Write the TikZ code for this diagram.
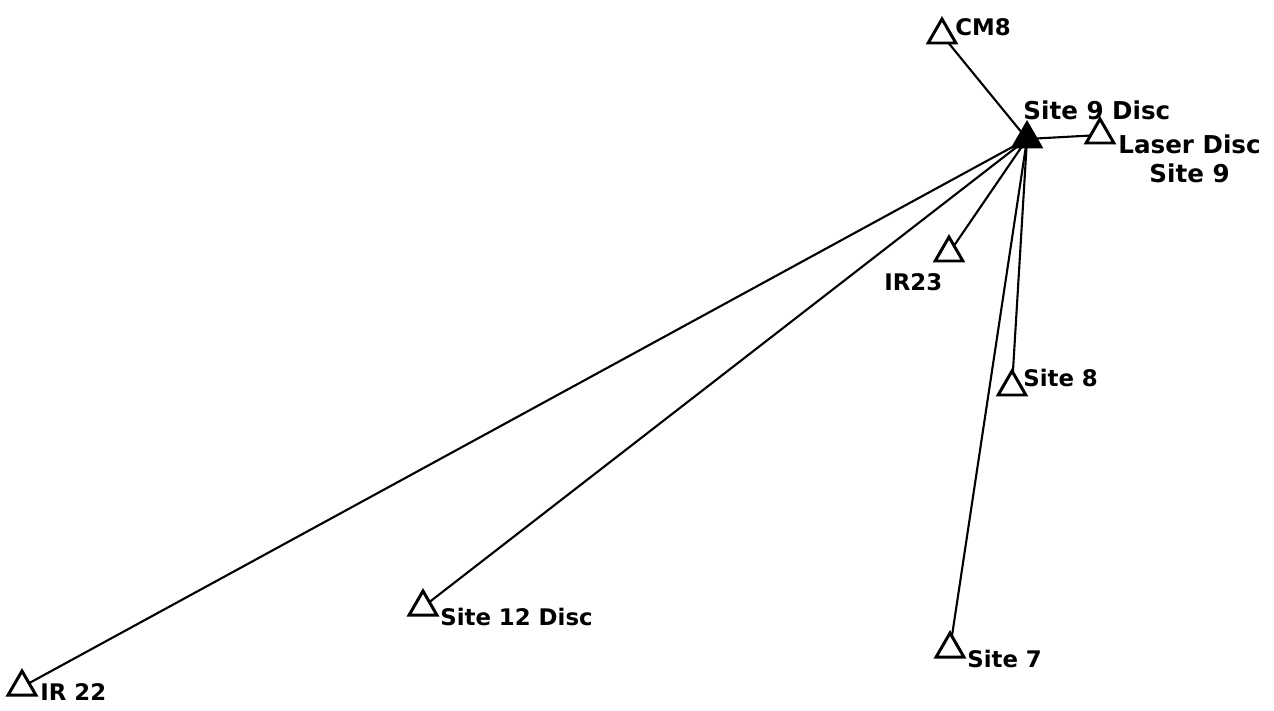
\documentclass[tikz,border=0pt]{standalone}
\usepackage{fontspec}
\setmainfont{DejaVu Sans}
\usetikzlibrary{shapes.geometric}

\begin{document}
\begin{tikzpicture}[x=0.02cm,y=-0.02cm,
  station/.style={regular polygon,regular polygon sides=3,draw,line width=1.7pt,
    minimum size=0.64cm,inner sep=0pt},
  lbl/.style={font=\bfseries\fontsize{13}{15}\selectfont,inner sep=0pt,anchor=west},
  ray/.style={line width=1.2pt,shorten <=-2pt,shorten >=-1pt}]
  \useasboundingbox (0,0) rectangle (1274,710);
  % stations
  \node[station,fill=black] (s9) at (1027,139) {};
  \node[station] (laser) at (1100,135) {};
  \node[station] (cm8) at (942,35) {};
  \node[station] (ir23) at (949,253) {};
  \node[station] (s8) at (1012,387) {};
  \node[station] (s7) at (950,649) {};
  \node[station] (s12) at (423,607) {};
  \node[station] (ir22) at (22,687) {};
  % labels
  \node[lbl,font=\bfseries\fontsize{14}{16}\selectfont] (s9l) at (1023,110) {Site 9 Disc};
  \node[lbl,font=\bfseries\fontsize{14}{17}\selectfont,align=center,anchor=north west] (laserl) at (1118,134) {Laser Disc\\Site 9};
  \node[lbl] (cm8l) at (955,27) {CM8};
  \node[lbl] (ir23l) at (884,282) {IR23};
  \node[lbl] (s8l) at (1023,378) {Site 8};
  \node[lbl] (s7l) at (967,659) {Site 7};
  \node[lbl] (s12l) at (440,617) {Site 12 Disc};
  \node[lbl] (ir22l) at (40,692) {IR 22};
  % rays from Site 9 Disc
  \path[ray]
    (s9) edge (cm8)
    (s9) edge (laser)
    (s9) edge (ir23)
    (s9) edge (s8)
    (s9) edge (s7)
    (s9) edge (s12)
    (s9) edge (ir22);
\end{tikzpicture}
\end{document}
